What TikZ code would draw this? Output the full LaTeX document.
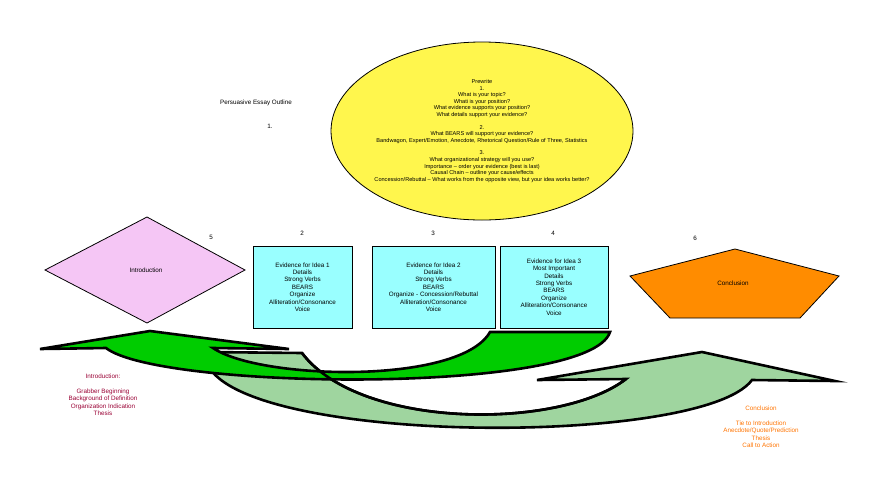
\documentclass[tikz,border=0pt]{standalone}
\usepackage{fontspec}
\setmainfont{Liberation Sans}

\tikzset{
    txt/.style = {font=\fontsize{6.3}{7.4}\selectfont, align=center, inner sep=0pt},
    idea/.style = {draw, thick, minimum width=99pt, minimum height=82pt, txt},
    band/.style = {draw=black, line width=2.6pt, line join=miter}
}
\definecolor{lightcyan}{HTML}{99FFFF}
\definecolor{lilac}{HTML}{F5C6F5}
\definecolor{lightgreen}{HTML}{9FD59F}

\begin{document}
\begin{tikzpicture}[x=1pt, y=-1pt]
\useasboundingbox (0,0) rectangle (880,496);

% prewrite ellipse
\draw[thick, fill=yellow!70] (482,131) ellipse [x radius=151, y radius=89];
\node[txt, font=\fontsize{5.6}{6.6}\selectfont] (prewrite) at (482,131)
    {Prewrite\\1.\\What is your topic?\\Whati is your position?\\What evidence supports your position?\\What details support your evidence?\\[6pt]
     2.\\What BEARS will support your evidence?\\Bandwagon, Expert/Emotion, Anecdote, Rhetorical Question/Rule of Three, Statistics\\[6pt]
     3.\\What organizational strategy will you use?\\Importance -- order your evidence (best is last)\\Causal Chain -- outline your cause/effects\\Concession/Rebuttal -- What works from the opposite view, but your idea works better?};
\node[txt] (title) at (256,103) {Persuasive Essay Outline};
\node[txt] (one) at (270,126) {1.};

% introduction
\draw[thick, fill=lilac] (45,270) -- (147,217) -- (245,270) -- (147,323) -- cycle;
\node[txt] (intro) at (146,270) {Introduction};
\node[txt] (five) at (211,237) {5};

% evidence boxes
\node[idea, fill=lightcyan] (ev1) at (302.5,287) {Evidence for Idea 1\\Details\\Strong Verbs\\BEARS\\Organize\\Alliteration/Consonance\\Voice};
\node[idea, fill=lightcyan, minimum width=123pt] (ev2) at (433.5,287) {Evidence for Idea 2\\Details\\Strong Verbs\\BEARS\\Organize - Concession/Rebuttal\\Alliteration/Consonance\\Voice};
\node[idea, fill=lightcyan, minimum width=108pt] (ev3) at (554,287) {Evidence for Idea 3\\Most Important\\Details\\Strong Verbs\\BEARS\\Organize\\Alliteration/Consonance\\Voice};
\node[txt] (two) at (302,233) {2};
\node[txt] (three) at (433,233) {3};
\node[txt] (four) at (553,233) {4};

% conclusion
\draw[thick, fill=orange!90!yellow] (735,249) -- (839,276) -- (800,318) -- (670,318) -- (630,276) -- cycle;
\node[txt] (concl) at (733,283) {Conclusion};
\node[txt] (six) at (695,238) {6};

% arrows
\draw[band, fill=lightgreen] (205,352) -- (302,353)
    .. controls (360,430) and (560,430) .. (626,379) -- (537,380) -- (702,352) -- (835,381) -- (752,380)
    .. controls (700,450) and (200,445) .. (205,352);
\draw[band, fill=green!80!black] (40,349) -- (150,331) -- (289,349) -- (213,348)
    .. controls (260,380) and (460,385) .. (490,332) -- (610,332)
    .. controls (590,395) and (160,390) .. (106,348) -- cycle;
\draw[band] (302,353) .. controls (360,430) and (560,430) .. (626,379);

% notes
\node[txt, text=purple!80!black] (intronote) at (103,395) {Introduction:\\[7pt]Grabber Beginning\\Background of Definition\\Organization Indication\\Thesis};
\node[txt, text=orange!90!red] (conclnote) at (761,427) {Conclusion\\[7pt]Tie to Introduction\\Anecdote/Quote/Prediction\\Thesis\\Call to Action};
\end{tikzpicture}
\end{document}
